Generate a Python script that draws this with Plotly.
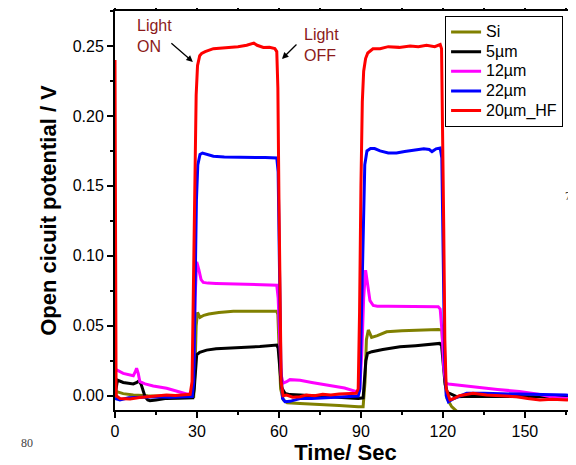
import plotly.graph_objects as go

# ---------------- data (time in s, potential in V) ----------------
t_si = [0, 0.6, 3, 6.7, 12, 20, 27, 28.8, 29.3, 29.7, 30.2, 31.1, 32.5, 34.3, 38, 43.3, 50, 59.2,
        59.6, 60.1, 60.6, 61.6, 63, 67.7, 75, 82, 89, 90.8, 91.5, 92, 92.7, 93.9, 96, 99.4, 105, 110,
        118.3, 119.6, 120.2, 120.8, 121.5, 123.2, 125, 127, 140, 169]
v_si = [-0.003, 0.0029, 0.0015, 0.0005, 0.0, -0.0003, -0.0003, -0.0005, 0.02, 0.05, 0.0595, 0.056,
        0.0575, 0.0584, 0.0595, 0.0603, 0.0603, 0.0603, 0.058, 0.03, 0.005, -0.003, -0.005, -0.0055,
        -0.0065, -0.007, -0.0078, -0.0078, 0.01, 0.04, 0.047, 0.0417, 0.043, 0.0457, 0.0465, 0.047,
        0.0474, 0.047, 0.03, 0.01, -0.002, -0.0078, -0.011, -0.013, -0.015, -0.015]

t_5 = [0, 0.9, 3, 6.7, 8, 8.8, 9.6, 10.3, 11, 12, 12.8, 15, 18.9, 23, 26.8, 28.5, 29, 29.4, 29.9, 31,
       33.5, 37, 42, 48, 53, 59.2, 59.7, 60.3, 60.9, 62.2, 64, 67.7, 72, 78, 84, 89, 90.8, 91.3, 91.8,
       92.4, 94, 98, 104.3, 110, 115, 118.8, 119.5, 120.1, 120.8, 121.6, 122.6, 125, 130, 140, 150,
       160, 165, 169]
v_5 = [0.0, 0.0112, 0.0095, 0.0084, 0.0095, 0.0107, 0.008, 0.003, -0.0007, -0.003, -0.0036, -0.003,
       -0.0019, -0.0018, -0.0019, -0.0015, 0.005, 0.02, 0.0293, 0.031, 0.0326, 0.0335, 0.034, 0.0345,
       0.0352, 0.0362, 0.034, 0.02, 0.006, 0.0017, 0.0008, 0.0005, 0.0, -0.001, -0.0015, -0.002,
       -0.0015, 0.01, 0.025, 0.0303, 0.0315, 0.033, 0.035, 0.0358, 0.0368, 0.0374, 0.036, 0.025, 0.008,
       0.0025, 0.0017, -0.0007, -0.0003, -0.0005, -0.0007, -0.0007, -0.001, -0.001]

t_12 = [0, 0.6, 3, 6.7, 7.4, 7.9, 8.5, 9.1, 11, 14, 18.9, 22, 26.2, 28.2, 28.8, 29.3, 29.9, 30.7,
        31.5, 32.3, 34, 37, 45, 52, 59.2, 59.7, 60.2, 60.8, 61.5, 62.8, 64, 67.7, 72, 78, 84, 88.4,
        89.5, 90.3, 91, 91.7, 92.5, 93.3, 94.5, 96, 100, 110, 118.3, 119, 119.7, 120.3, 121, 122, 126,
        132, 140, 148, 155, 160, 165, 169]
v_12 = [0.017, 0.0184, 0.016, 0.0143, 0.017, 0.0196, 0.016, 0.010, 0.0085, 0.007, 0.0053, 0.0035,
        0.0012, 0.0012, 0.02, 0.07, 0.0957, 0.09, 0.083, 0.081, 0.0805, 0.0803, 0.080, 0.0795, 0.079,
        0.07, 0.04, 0.015, 0.009, 0.010, 0.0115, 0.011, 0.0095, 0.0075, 0.0055, 0.0029, 0.0035, 0.03,
        0.07, 0.0898, 0.08, 0.068, 0.0645, 0.064, 0.064, 0.0638, 0.0636, 0.062, 0.045, 0.02, 0.009,
        0.0084, 0.0075, 0.006, 0.0045, 0.003, 0.001, -0.001, -0.002, -0.002]

t_22 = [0, 1.8, 5, 10, 15, 20, 26, 28.3, 28.8, 29.3, 29.8, 30.3, 31.1, 32, 34, 36, 40, 44, 48.2, 52,
        55, 59.2, 59.7, 60.2, 60.7, 61.3, 62.2, 64, 67.7, 72, 76, 80, 85, 89, 89.6, 90.2, 90.8, 91.4,
        92.2, 93.5, 95, 97, 100, 103, 106, 110, 113, 115, 116, 117.5, 119, 119.6, 120.1, 120.6, 121.2,
        122, 124, 128.7, 135, 140, 150, 160, 165, 169]
v_22 = [-0.002, -0.003, -0.0015, -0.001, -0.0008, -0.001, -0.0008, -0.0005, 0.01, 0.07, 0.14, 0.165,
        0.1725, 0.1735, 0.1725, 0.1712, 0.1707, 0.1707, 0.1707, 0.1705, 0.1702, 0.170, 0.16, 0.09,
        0.02, -0.002, -0.0043, -0.004, -0.002, -0.002, -0.0015, -0.001, -0.0005, -0.0002, 0.005, 0.06,
        0.13, 0.165, 0.175, 0.1767, 0.1767, 0.175, 0.1735, 0.1735, 0.1745, 0.1755, 0.1765, 0.176,
        0.1745, 0.1765, 0.177, 0.17, 0.1, 0.03, 0.0, -0.0043, -0.002, 0.0017, 0.0017, 0.0015, 0.0012,
        0.001, 0.0005, 0.0]

t_hf = [0, 0.4, 1.8, 5.5, 9, 12.8, 16, 18.9, 22, 26.2, 27.5, 28.2, 28.7, 29.2, 29.7, 30.2, 31, 31.7,
        33, 36, 39, 42.1, 45, 48.2, 50, 50.8, 52, 54.3, 56.5, 58.5, 59.2, 59.6, 60.0, 60.4, 60.8, 61.5,
        62.8, 65, 67.7, 70, 73, 76, 79, 82, 85, 88.3, 89, 89.5, 90, 90.5, 91, 91.7, 92.5, 94.4, 97, 100,
        104, 108, 111, 114, 117, 119, 119.5, 119.9, 120.3, 120.7, 121.2, 122.6, 124, 126, 131, 136,
        141, 147, 151, 155.5, 160, 165.5, 169]
v_hf = [0.24, 0.0, -0.002, -0.0024, -0.0012, -0.0007, 0.0, 0.0005, 0.0002, 0.0005, 0.001, 0.01, 0.08,
        0.16, 0.215, 0.236, 0.243, 0.2446, 0.246, 0.2481, 0.2485, 0.2493, 0.2495, 0.2505, 0.2515,
        0.252, 0.2505, 0.2489, 0.249, 0.2481, 0.246, 0.22, 0.14, 0.05, 0.01, 0.0, 0.0005, -0.001,
        -0.0007, 0.0005, 0.0, 0.001, 0.0005, 0.0012, 0.0015, 0.0017, 0.005, 0.06, 0.15, 0.21, 0.232,
        0.241, 0.245, 0.248, 0.248, 0.2495, 0.249, 0.25, 0.2495, 0.2505, 0.2495, 0.251, 0.248, 0.2,
        0.12, 0.04, 0.005, -0.003, -0.002, 0.0, 0.0017, 0.0005, 0.0, -0.0007, -0.002, -0.003, -0.0025,
        -0.003, -0.002]

names = ["Si", "5\u00b5m", "12\u00b5m", "22\u00b5m", "20\u00b5m_HF"]
colors = ["#808000", "#000000", "#FF00FF", "#0000FF", "#FF0000"]
times = [t_si, t_5, t_12, t_22, t_hf]
values = [v_si, v_5, v_12, v_22, v_hf]

x_range = [0, 168.7]
y_range = [-0.0102, 0.275]
FONT = "Liberation Sans, Arial, sans-serif"

fig = go.Figure()
for name, t, v, c in zip(names, times, values, colors):
    fig.add_trace(go.Scatter(x=t, y=v, mode="lines",
                             name='<span style="font-size:16px">%s</span>' % name,
                             line=dict(color=c, width=3)))
# invisible copy to anchor the top (mirror) axis
fig.add_trace(go.Scatter(x=t_si, y=v_si, xaxis="x2", mode="lines", showlegend=False,
                         hoverinfo="skip", line=dict(width=0), opacity=0))

# page body has an 8px margin: figure is 568x457 so it fills the 576x465 window
fig.update_layout(
    width=568, height=457,
    margin=dict(l=107, r=0, t=3, b=55, autoexpand=False),
    paper_bgcolor="white", plot_bgcolor="white",
    font=dict(family=FONT, size=16, color="black"),
    showlegend=True,
    legend=dict(x=0.716, y=0.987, xanchor="left", yanchor="top",
                bgcolor="white", bordercolor="black", borderwidth=1,
                font=dict(size=12.8), tracegroupgap=0),
    xaxis=dict(range=x_range, showgrid=False, zeroline=False, showline=True,
               linecolor="black", linewidth=2, ticks="outside", ticklen=6, tickwidth=2,
               tickcolor="black", tickmode="linear", tick0=0, dtick=30,
               minor=dict(ticks="outside", ticklen=3, tickwidth=2, dtick=15, tickcolor="black"),
               tickfont=dict(size=16),
               title=dict(text="<b>Time/ Sec</b>", font=dict(size=22), standoff=6)),
    xaxis2=dict(range=x_range, overlaying="x", side="top", anchor="y", showgrid=False,
                zeroline=False, showline=True, linecolor="black", linewidth=2,
                ticks="outside", ticklen=3, tickwidth=2, tickcolor="black",
                tickmode="linear", tick0=0, dtick=15, showticklabels=False),
    yaxis=dict(range=y_range, showgrid=False, zeroline=False, showline=True,
               linecolor="black", linewidth=2, ticks="outside", ticklen=6, tickwidth=2,
               tickcolor="black", tickmode="linear", tick0=0, dtick=0.05, tickformat=".2f",
               minor=dict(ticks="outside", ticklen=3, tickwidth=2, dtick=0.025, tickcolor="black"),
               tickfont=dict(size=16),
               title=dict(text="<b>Open cicuit potential / V</b>", font=dict(size=22), standoff=10)),
)

dark_red = "#8B1A1A"
fig.add_annotation(x=7.3, y=0.2571, xref="x", yref="y", text="Light<br>ON", showarrow=False,
                   xanchor="left", yanchor="middle", align="left",
                   font=dict(size=16, color=dark_red))
fig.add_annotation(x=68.4, y=0.2507, xref="x", yref="y", text="Light<br>OFF", showarrow=False,
                   xanchor="left", yanchor="middle", align="left",
                   font=dict(size=16, color=dark_red))
fig.add_annotation(x=28.5, y=0.2386, xref="x", yref="y", text="", showarrow=True,
                   ax=-23, ay=-20, arrowhead=2, arrowsize=1, arrowwidth=1.3,
                   arrowcolor="black", standoff=0)
fig.add_annotation(x=61.1, y=0.2407, xref="x", yref="y", text="", showarrow=True,
                   ax=16, ay=-16, arrowhead=2, arrowsize=1, arrowwidth=1.3,
                   arrowcolor="black", standoff=0)

# stray page-number text around the cropped figure
serif = "Liberation Serif, Times New Roman, serif"
fig.add_annotation(x=-0.19, y=-0.083, xref="paper", yref="paper", text="80", showarrow=False,
                   xanchor="center", yanchor="middle", font=dict(size=12, family=serif, color="#444"))
fig.add_annotation(x=0.972, y=0.536, xref="paper", yref="paper", text="7(", showarrow=False,
                   xanchor="left", yanchor="middle", font=dict(size=12, family=serif, color="#444"))
fig.add_annotation(x=0.978, y=0.293, xref="paper", yref="paper", text="7", showarrow=False,
                   xanchor="left", yanchor="middle", font=dict(size=12, family=serif, color="#444"))

fig.write_html("out.html")
